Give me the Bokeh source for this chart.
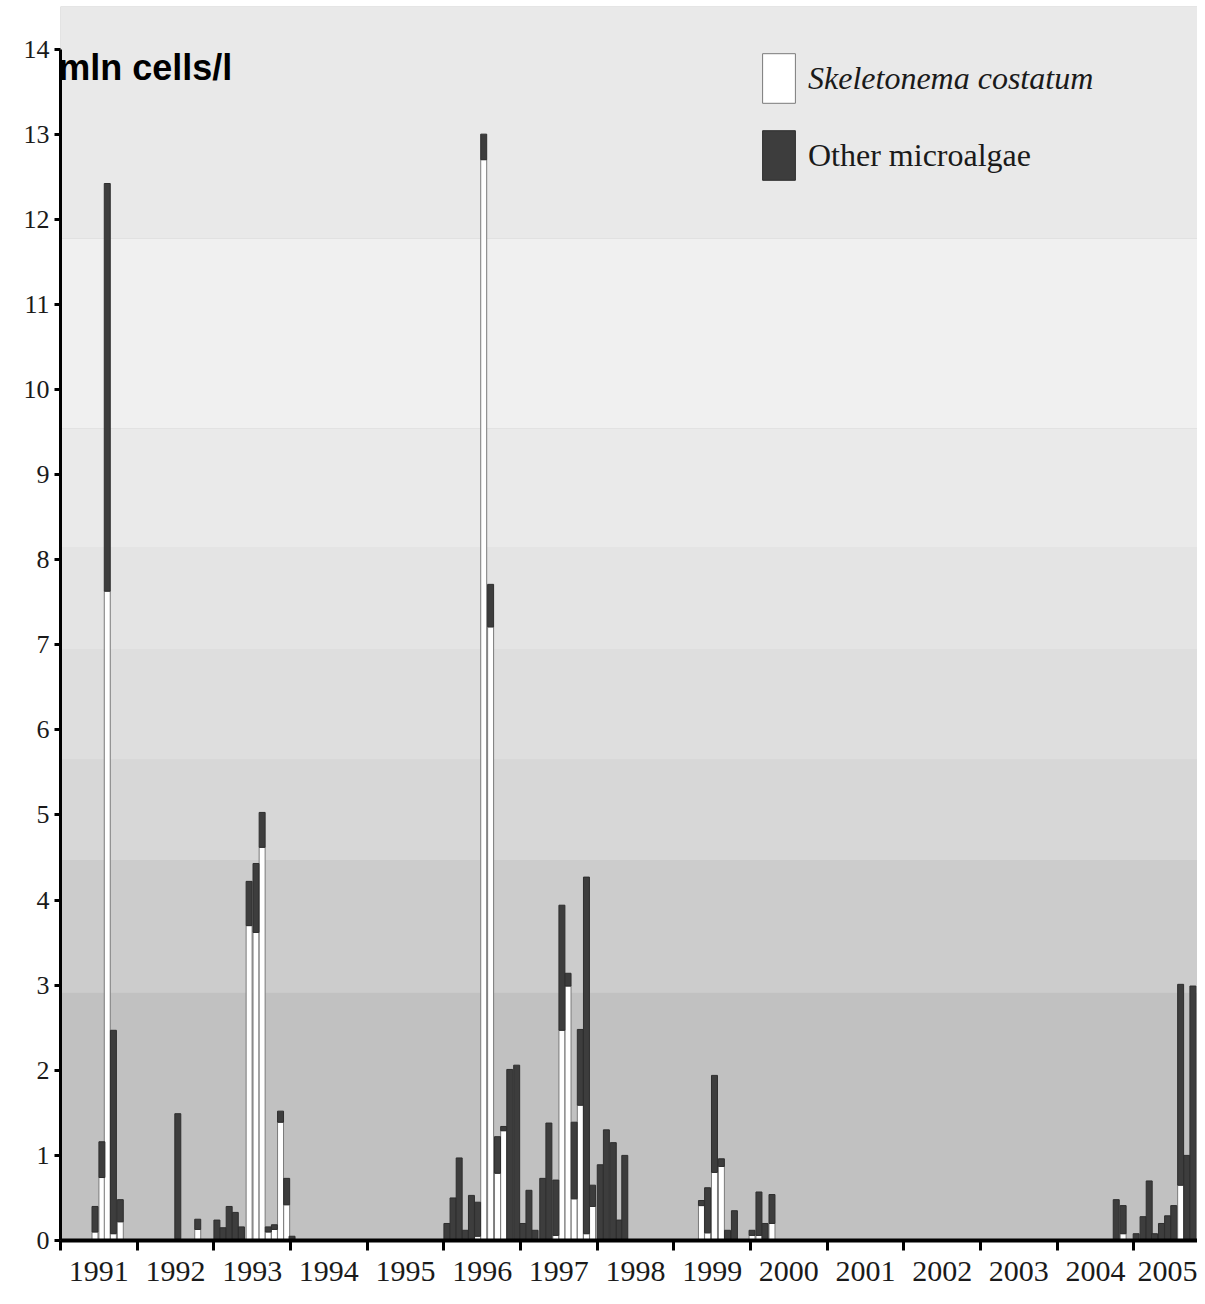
from bokeh.plotting import figure
from bokeh.models import (Range1d, FixedTicker, BoxAnnotation, Label, Legend,
                          LegendItem, ColumnDataSource)
from bokeh.embed import file_html
from bokeh.resources import INLINE

# ---- data ----
dates = [
    1991.45, 1991.54, 1991.61, 1991.69, 1991.78,
    1992.53, 1992.79,
    1993.04, 1993.12, 1993.20, 1993.28, 1993.36, 1993.46, 1993.55, 1993.63,
    1993.71, 1993.79, 1993.87, 1993.95, 1994.02,
    1996.04, 1996.12, 1996.20, 1996.28, 1996.36, 1996.44, 1996.52, 1996.61,
    1996.70, 1996.78, 1996.86, 1996.95,
    1997.03, 1997.11, 1997.19, 1997.29, 1997.37, 1997.46, 1997.54, 1997.62,
    1997.70, 1997.78, 1997.86, 1997.94,
    1998.04, 1998.12, 1998.21, 1998.29, 1998.36,
    1999.36, 1999.44, 1999.53, 1999.62, 1999.70, 1999.79,
    2000.02, 2000.11, 2000.19, 2000.28,
    2004.77, 2004.86, 2005.03, 2005.12, 2005.20, 2005.27, 2005.36, 2005.44,
    2005.52, 2005.61, 2005.69, 2005.77,
]
skeletonema = [
    0.10, 0.74, 7.63, 0.08, 0.22,
    0.02, 0.13,
    0.00, 0.00, 0.00, 0.00, 0.00, 3.70, 3.62, 4.62,
    0.10, 0.13, 1.39, 0.42, 0.00,
    0.00, 0.00, 0.00, 0.00, 0.00, 0.05, 12.70, 7.21,
    0.79, 1.29, 0.00, 0.00,
    0.00, 0.00, 0.00, 0.00, 0.00, 0.06, 2.47, 2.99,
    0.49, 1.59, 0.08, 0.40,
    0.00, 0.00, 0.00, 0.00, 0.00,
    0.41, 0.09, 0.80, 0.87, 0.00, 0.00,
    0.06, 0.06, 0.00, 0.20,
    0.00, 0.08, 0.00, 0.00, 0.00, 0.00, 0.00, 0.00,
    0.00, 0.65, 0.00, 0.00,
]
other = [
    0.30, 0.42, 4.79, 2.39, 0.26,
    1.47, 0.12,
    0.24, 0.15, 0.40, 0.33, 0.16, 0.52, 0.81, 0.41,
    0.06, 0.055, 0.13, 0.31, 0.05,
    0.20, 0.50, 0.97, 0.12, 0.53, 0.40, 0.30, 0.50,
    0.43, 0.05, 2.01, 2.06,
    0.20, 0.59, 0.12, 0.73, 1.38, 0.65, 1.47, 0.15,
    0.90, 0.89, 4.19, 0.25,
    0.89, 1.30, 1.15, 0.24, 1.00,
    0.06, 0.53, 1.14, 0.09, 0.12, 0.35,
    0.06, 0.51, 0.20, 0.34,
    0.48, 0.33, 0.08, 0.28, 0.70, 0.08, 0.20, 0.29,
    0.41, 2.36, 1.00, 2.99,
]
years = list(range(1991, 2006))
year_labels = [str(y) for y in years]
y_ticks = list(range(0, 15))
series_names = ["Skeletonema costatum", "Other microalgae"]

source = ColumnDataSource(dict(date=dates, skeletonema=skeletonema, other=other))

p = figure(width=1197, height=1296, output_backend="svg", toolbar_location=None,
           x_range=Range1d(1991.0, 2005.83), y_range=Range1d(0, 14.5),
           min_border_left=60, min_border_right=0, min_border_top=6,
           min_border_bottom=56)
p.background_fill_color = "#c1c1c1"
p.border_fill_color = "white"
p.outline_line_color = None
p.grid.visible = False

# background shading bands
bands = [
    (2.91, 4.47, "#cccccc"),
    (4.47, 5.65, "#d7d7d7"),
    (5.65, 6.95, "#dedede"),
    (6.95, 8.15, "#e4e4e4"),
    (8.15, 9.54, "#eaeaea"),
    (9.54, 11.77, "#f0f0f0"),
    (11.77, 15.0, "#e9e9e9"),
]
for b, t, c in bands:
    p.add_layout(BoxAnnotation(bottom=b, top=t, fill_color=c, fill_alpha=1,
                               line_color=None, level="underlay"))

bars = p.vbar_stack(["skeletonema", "other"], x="date", width=0.078, source=source,
                    fill_color=["white", "#3d3d3d"], line_color=["#7a7a7a", "#2e2e2e"],
                    line_width=1)

# legend (two legends so that one label is italic)
for r, name, style, loc in [(bars[0], series_names[0], "italic", (698, 1131)),
                            (bars[1], series_names[1], "normal", (698, 1054))]:
    lg = Legend(items=[LegendItem(label=name, renderers=[r])], location=loc,
                glyph_width=41, glyph_height=62, label_standoff=9,
                label_text_font="Liberation Serif", label_text_font_size="32px",
                label_text_font_style=style, label_text_color="#1a1a1a",
                padding=0, margin=0, border_line_color=None,
                background_fill_alpha=0)
    p.add_layout(lg)

# y axis
yax = p.yaxis[0]
yax.ticker = FixedTicker(ticks=y_ticks)
yax.bounds = (0, 14)
yax.axis_line_width = 3
yax.axis_line_color = "black"
yax.major_tick_out = 6
yax.major_tick_in = 0
yax.major_tick_line_width = 3
yax.minor_tick_line_color = None
yax.major_label_text_font = "Liberation Serif"
yax.major_label_text_font_size = "26px"
yax.major_label_text_color = "#1a1a1a"
yax.major_label_standoff = 5

# x axis: labels centred in each year, ticks at year boundaries
xax = p.xaxis[0]
xax.ticker = FixedTicker(ticks=[y + 0.5 for y in years], minor_ticks=years)
xax.major_label_overrides = {y + 0.5: lab for y, lab in zip(years, year_labels)}
xax.axis_line_width = 4
xax.axis_line_color = "black"
xax.major_tick_line_color = None
xax.major_tick_out = 10
xax.major_tick_in = 0
xax.minor_tick_out = 10
xax.minor_tick_in = 0
xax.minor_tick_line_width = 3
xax.minor_tick_line_color = "black"
xax.major_label_text_font = "Liberation Serif"
xax.major_label_text_font_size = "30px"
xax.major_label_text_color = "#1a1a1a"
xax.major_label_standoff = 11

p.add_layout(Label(x=1990.97, y=13.78, text="mln cells/l", text_font="Liberation Sans",
                   text_font_style="bold", text_font_size="36px",
                   text_baseline="alphabetic", text_color="black"))

open("out.html", "w").write(file_html(p, INLINE))
